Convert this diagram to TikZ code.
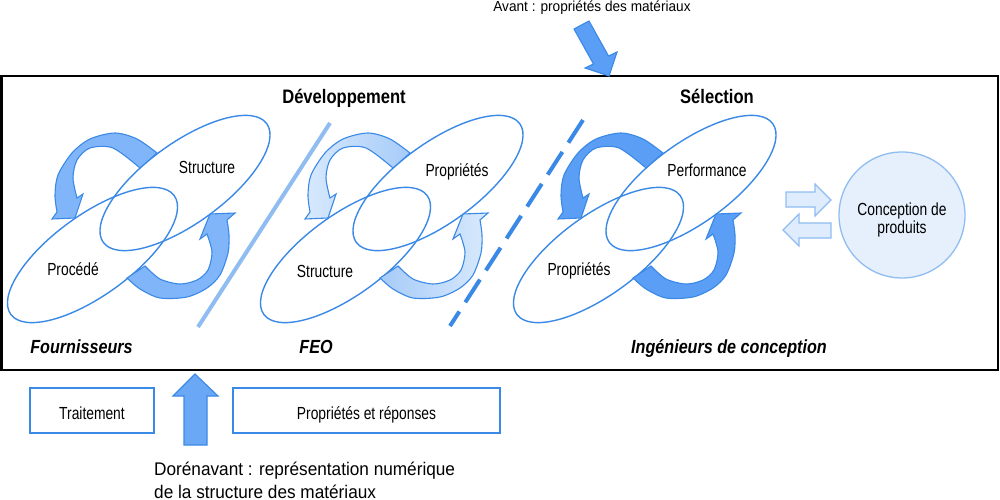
\documentclass[tikz,border=0pt]{standalone}
\usepackage{fontspec}
\setmainfont{Liberation Sans}
\newfontfamily\narrowfont[FakeStretch=0.85]{Liberation Sans}
\newfontfamily\labfont[FakeStretch=0.79]{Liberation Sans}
\newfontfamily\plainfont[FakeStretch=0.94]{Liberation Sans}
\definecolor{eblue}{RGB}{59,137,230}
\definecolor{gonefill}{RGB}{128,182,249}
\definecolor{gtwodark}{RGB}{166,203,248}
\definecolor{gtwolight}{RGB}{216,233,253}
\definecolor{gthreefill}{RGB}{90,158,245}
\definecolor{lblue}{RGB}{143,189,242}
\definecolor{palefill}{RGB}{222,236,253}
\definecolor{circfill}{RGB}{230,240,252}
\definecolor{uparrowfill}{RGB}{106,168,245}
\newcommand\ellpair{%
  \draw[ellline] (185,183) ellipse[x radius=101, y radius=40, rotate=36];
  \draw[ellline] (92.5,255) ellipse[x radius=101, y radius=40, rotate=36];}
\newcommand\upperarrowpath{%
  (157,153) -- plot[smooth] coordinates {(157,153) (137,139) (115,133) (90,139) (72,153) (58,175) (55,195) (57,212)}
  -- (52,219) -- (75,218) -- (83,194) -- (77,198)
  -- plot[smooth] coordinates {(77,198) (73,178) (77,160) (90,148) (113,148) (140,168)} -- cycle}
\newcommand\lowerarrowpath{%
  (127,278) -- plot[smooth] coordinates {(127,278) (140,289) (160,298) (187,297) (207,288) (220,275) (228,253) (229,235) (227,220)}
  -- (235,213) -- (210,214) -- (200,239) -- (207,234)
  -- plot[smooth] coordinates {(207,234) (212,252) (208,270) (197,280) (180,284) (160,279) (145,266)} -- cycle}
\begin{document}
\begin{tikzpicture}[x=1pt,y=-1pt,
  ellline/.style={draw=eblue, line width=1.4pt},
  loopar/.style={draw=eblue, line width=1.1pt, line join=miter},
  lab/.style={font=\labfont\fontsize{17.5}{20}\selectfont, anchor=base, inner sep=0pt},
  headtxt/.style={font=\narrowfont\bfseries\fontsize{19.5}{22}\selectfont, anchor=base, inner sep=0pt},
  foottxt/.style={font=\narrowfont\bfseries\itshape\fontsize{19}{22}\selectfont, anchor=base, inner sep=0pt},
  bluebox/.style={draw=eblue, line width=1.4pt, fill=white},
  blockar/.style={draw=eblue, line width=1.1pt, line join=miter},
  hollowar/.style={draw=lblue, fill=palefill, line width=1.1pt, line join=miter}]
\useasboundingbox (0,0) rectangle (1000,500);
\fill[white] (0,0) rectangle (1000,500);

% main frame
\draw[line width=2.2pt, black] (1.5,76) rectangle (998,370);

% group 1
\ellpair
\path[loopar, fill=gonefill] \upperarrowpath;
\path[loopar, fill=gonefill] \lowerarrowpath;

% group 2
\begin{scope}[shift={(253,0)}]
\ellpair
\path[loopar, left color=gtwolight, right color=gtwodark] \upperarrowpath;
\path[loopar, left color=gtwodark, right color=gtwolight] \lowerarrowpath;
\end{scope}

% group 3
\begin{scope}[shift={(506,0)}]
\ellpair
\path[loopar, fill=gthreefill] \upperarrowpath;
\path[loopar, fill=gthreefill] \lowerarrowpath;
\end{scope}

% separators
\coordinate (sepAtop) at (330,123);
\coordinate (sepAbot) at (198,327);
\draw[lblue, line width=4pt] (sepAtop) -- (sepAbot);
\coordinate (sepBtop) at (583,120);
\coordinate (sepBbot) at (450,326);
\draw[eblue, line width=4pt, dash pattern=on 27pt off 11pt] (sepBtop) -- (sepBbot);

% labels
\node[lab] (struct1) at (207,173) {Structure};
\node[lab] (proc1) at (73,275) {Procédé};
\node[lab] (prop2) at (457,176) {Propriétés};
\node[lab] (struct2) at (325,277) {Structure};
\node[lab] (perf3) at (707,176) {Performance};
\node[lab] (prop3) at (579,275) {Propriétés};

\node[headtxt] (dev) at (344,104) {Développement};
\node[headtxt] (sel) at (717,104) {Sélection};

\node[foottxt] (four) at (81.5,353) {Fournisseurs};
\node[foottxt] (feo) at (316,353) {FEO};
\node[foottxt] (ing) at (729,353) {Ingénieurs de conception};

% right exchange arrows and circle
\path[hollowar] (786,192) -- (815,192) -- (815,184) -- (831,200) -- (815,216) -- (815,207) -- (786,207) -- cycle;
\path[hollowar] (831,223) -- (799,223) -- (799,214) -- (783,230) -- (799,246) -- (799,238) -- (831,238) -- cycle;
\node[circle, draw=lblue, fill=circfill, line width=1.3pt, minimum size=126pt, inner sep=0pt] (concep) at (902,215) {};
\node[lab] (concepA) at (902,215) {Conception de};
\node[lab] (concepB) at (902,233) {produits};

% top arrow
\node[anchor=base, inner sep=0pt, font=\plainfont\fontsize{14.5}{17}\selectfont] (avant) at (592,12) {Avant : propriétés des matériaux};
\path[blockar, fill=gthreefill] (574,29) -- (589,21) -- (608.5,56) -- (617,52) -- (609,76) -- (585,68) -- (593.5,64) -- cycle;

% bottom boxes
\draw[bluebox] (30,388) rectangle (154,433);
\node[lab] (trait) at (92,419) {Traitement};
\draw[bluebox] (233,388) rectangle (500,433);
\node[lab] (propresp) at (366.5,419) {Propriétés et réponses};

% bottom up arrow
\path[blockar, fill=uparrowfill] (195,374) -- (218,396) -- (207,396) -- (207,445) -- (184,445) -- (184,396) -- (173,396) -- cycle;

\node[anchor=base west, inner sep=0pt, font=\plainfont\fontsize{18.3}{21}\selectfont] (dore1) at (154,475) {Dorénavant : représentation numérique};
\node[anchor=base west, inner sep=0pt, font=\plainfont\fontsize{18.3}{21}\selectfont] (dore2) at (154,498) {de la structure des matériaux};
\end{tikzpicture}
\end{document}
